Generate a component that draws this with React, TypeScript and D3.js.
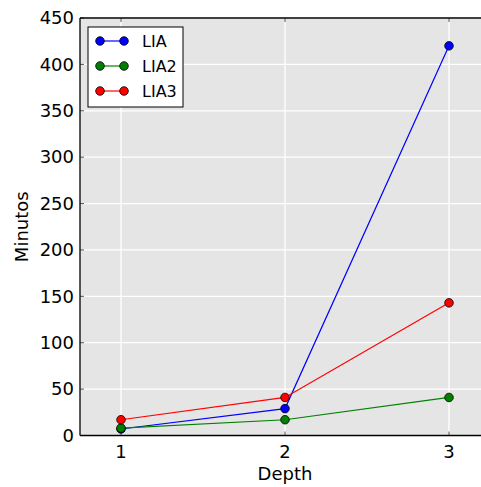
import React from "react";
import * as d3 from "d3";

const depths = [1, 2, 3];
const seriesNames = ["LIA", "LIA2", "LIA3"];
const liaValues = [7, 29, 420];
const lia2Values = [8, 17, 41];
const lia3Values = [17, 41, 143];
const seriesColors = ["#0000ff", "#008000", "#ff0000"];
const yTicks = [0, 50, 100, 150, 200, 250, 300, 350, 400, 450];
const xTicks = [1, 2, 3];

export default function App() {
  const W = 481, H = 487;
  const left = 80, right = 490, top = 18, bottom = 435.5;
  const x = d3.scaleLinear().domain([0.75, 3.25]).range([left, right]);
  const y = d3.scaleLinear().domain([0, 450]).range([bottom, top]);
  const all = [liaValues, lia2Values, lia3Values];
  const line = d3.line<number>().x((_, i) => x(depths[i])).y((d) => y(d));
  const font = "DejaVu Sans, sans-serif";
  return (
    <svg width={W} height={H} style={{ position: "absolute", left: 0, top: 0 }}>
      <rect x={0} y={0} width={W} height={H} fill="#fff" />
      <rect x={left} y={top} width={right - left} height={bottom - top} fill="#e5e5e5" />
      {yTicks.map((t) => (
        <line key={"gy" + t} x1={left} x2={right} y1={y(t)} y2={y(t)} stroke="#fff" strokeWidth={1.3} />
      ))}
      {xTicks.map((t) => (
        <line key={"gx" + t} x1={x(t)} x2={x(t)} y1={top} y2={bottom} stroke="#fff" strokeWidth={1.3} />
      ))}
      {yTicks.map((t) => (
        <line key={"ty" + t} x1={left} x2={left + 4} y1={y(t)} y2={y(t)} stroke="#555" strokeWidth={1} />
      ))}
      {xTicks.map((t) => (
        <g key={"tx" + t}>
          <line x1={x(t)} x2={x(t)} y1={bottom} y2={bottom - 4} stroke="#555" strokeWidth={1} />
          <line x1={x(t)} x2={x(t)} y1={top} y2={top + 4} stroke="#555" strokeWidth={1} />
        </g>
      ))}
      {all.map((vals, si) => (
        <path key={"l" + si} d={line(vals) || ""} fill="none" stroke={seriesColors[si]} strokeWidth={1.2} />
      ))}
      {all.map((vals, si) =>
        vals.map((v, i) => (
          <circle key={"c" + si + "-" + i} cx={x(depths[i])} cy={y(v)} r={4.3} fill={seriesColors[si]} stroke="#000" strokeWidth={0.8} />
        ))
      )}
      <line x1={left} x2={right} y1={top} y2={top} stroke="#000" strokeWidth={1.3} />
      <line x1={left} x2={right} y1={bottom} y2={bottom} stroke="#000" strokeWidth={1.3} />
      <line x1={left} x2={left} y1={top} y2={bottom} stroke="#000" strokeWidth={1.3} />
      {yTicks.map((t) => (
        <text key={"yl" + t} x={left - 6} y={y(t)} dy="0.35em" textAnchor="end" fontFamily={font} fontSize={18} fill="#000">
          {t}
        </text>
      ))}
      {xTicks.map((t) => (
        <text key={"xl" + t} x={x(t)} y={bottom + 22} textAnchor="middle" fontFamily={font} fontSize={18} fill="#000">
          {t}
        </text>
      ))}
      <text x={285} y={480} textAnchor="middle" fontFamily={font} fontSize={18} fill="#000">Depth</text>
      <text transform={`translate(28,${(top + bottom) / 2}) rotate(-90)`} textAnchor="middle" fontFamily={font} fontSize={18} fill="#000">Minutos</text>
      <rect x={88} y={27} width={95} height={80} fill="#fff" stroke="#000" strokeWidth={1} />
      {seriesNames.map((n, i) => {
        const ly = 41 + i * 25;
        return (
          <g key={"lg" + n}>
            <line x1={100} x2={124} y1={ly} y2={ly} stroke={seriesColors[i]} strokeWidth={1.2} />
            <circle cx={100} cy={ly} r={4.3} fill={seriesColors[i]} stroke="#000" strokeWidth={0.8} />
            <circle cx={124} cy={ly} r={4.3} fill={seriesColors[i]} stroke="#000" strokeWidth={0.8} />
            <text x={142} y={ly} dy="0.35em" fontFamily={font} fontSize={16} fill="#000">{n}</text>
          </g>
        );
      })}
    </svg>
  );
}
